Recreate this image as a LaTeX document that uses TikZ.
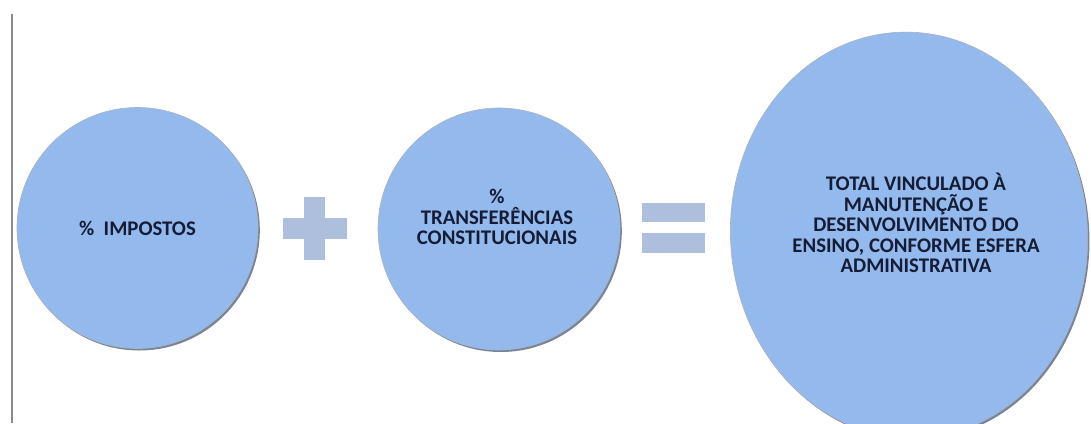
\documentclass[tikz,border=0pt]{standalone}
\usepackage{fontspec}
\setmainfont{Carlito}
\usetikzlibrary{shapes.geometric,shadows}
\definecolor{bubfill}{HTML}{94BAED}
\definecolor{bubedge}{HTML}{56657F}
\definecolor{opcol}{HTML}{AEBFDD}
\definecolor{txtcol}{HTML}{151C36}
\definecolor{linecol}{HTML}{8A8A8A}
\tikzset{
  bubble/.style={fill=bubfill, draw=bubedge!50, line width=0.6pt, inner sep=0pt,
    drop shadow={shadow xshift=1.8pt, shadow yshift=-2pt, fill=bubedge, opacity=0.8}},
  bubtext/.style={text=txtcol, align=center, inner sep=0pt,
    font=\fontsize{20.8}{20.5}\selectfont\bfseries},
  opbar/.style={fill=opcol}
}
\begin{document}
\begin{tikzpicture}[x=1pt,y=-1pt]
\useasboundingbox (0,0) rectangle (1091,423);
% left vertical rule
\coordinate (lt) at (12,14);
\coordinate (lb) at (12,423);
\draw[linecol, line width=2pt] (lt) -- (lb);
% circles
\node[bubble, circle, minimum size=241pt] (c1) at (137.5,228) {};
\node[bubtext] (t1) at (c1.center) {\%\ \ IMPOSTOS};
\node[bubble, circle, minimum size=242pt] (c2) at (499,229) {};
\node[bubtext] (t2) at (497,217) {\%\\TRANSFERÊNCIAS\\CONSTITUCIONAIS};
\node[bubble, ellipse, minimum width=357pt, minimum height=406pt, rotate=4] (c3) at (909,235) {};
\node[bubtext] (t3) at (916,223) {TOTAL VINCULADO À\\MANUTENÇÃO E\\DESENVOLVIMENTO DO\\ENSINO, CONFORME ESFERA\\ADMINISTRATIVA};
% plus sign
\fill[opbar] (304,197) rectangle (325,260);
\fill[opbar] (283,218) rectangle (347,239);
% equals sign
\fill[opbar] (642,203) rectangle (705,222);
\fill[opbar] (642,233) rectangle (705,253);
\end{tikzpicture}
\end{document}
